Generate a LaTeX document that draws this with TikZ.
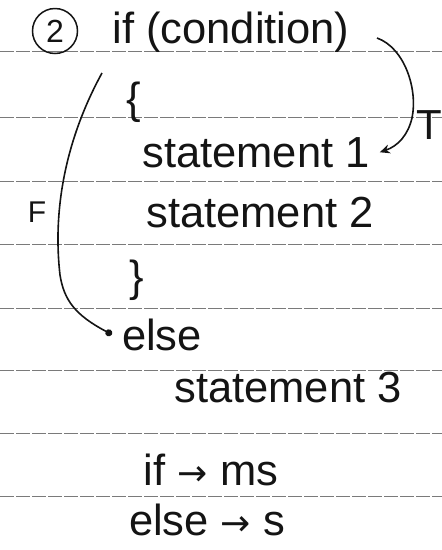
\documentclass[tikz,border=0pt]{standalone}
\usepackage{fontspec}
\usepackage{xcolor}
\usepackage{tikz}
\usetikzlibrary{arrows.meta,positioning,calc}
\setmainfont{Liberation Sans}
\newfontfamily\symfont{DejaVu Sans}
\newcommand{\handbig}{\fontsize{43.5}{50}\selectfont}
\newcommand{\handlbl}{\fontsize{30}{36}\selectfont}
\newcommand{\toarr}{{\symfont\fontsize{36}{40}\selectfont →}}
\definecolor{ink}{HTML}{141414}
\definecolor{ruling}{HTML}{7A7A7A}
\tikzset{
  code/.style={anchor=base, inner xsep=10pt, inner ysep=3pt, text=ink,
               font=\handbig},
  lbl/.style={anchor=base, inner sep=2pt, text=ink, font=\handlbl},
  numc/.style={circle, draw=ink, line width=1.5pt, minimum size=45pt,
               inner sep=0pt, text=ink, font=\fontsize{32}{36}\selectfont},
  flow/.style={-{Stealth[length=10pt,width=9pt]}, line width=1.6pt, draw=ink},
  flowdot/.style={-{Circle[length=7pt]}, line width=1.6pt, draw=ink},
  ruled/.style={draw=ruling, line width=0.9pt, dash pattern=on 14pt off 2pt},
}

\begin{document}
\begin{tikzpicture}[x=1pt, y=-1pt]
  \useasboundingbox (0,0) rectangle (442,550);
  % ruled notebook lines
  \foreach \ry in {51,117,181,244,308,370,433,496}
    \draw[ruled] (0,\ry) -- (442,\ry);

  \node[numc] (num) at (55,31) {2};
  \node[code] (cond) at (231,43) {if (condition)};
  \node[code] (open) at (134,113) {\{};
  \node[code] (st1) at (256,167) {statement 1};
  \node[code] (st2) at (260,227) {statement 2};
  \node[code] (close) at (137,291) {\}};
  \node[code] (els) at (162,350) {else};
  \node[code] (st3) at (288,402) {statement 3};
  \node[code] (ifms) at (211,485) {if \toarr{} ms};
  \node[code] (elss) at (207,535) {else \toarr{} s};

  \node[lbl, font=\fontsize{42}{48}\selectfont] (tl) at (429,139) {T};
  \node[lbl] (fl) at (37,222) {F};

  % true branch / false branch
  \coordinate (tstart) at (377,38);
  \coordinate (fstart) at (102,73);
  \draw[flow] (tstart) .. controls (405,48) and (418,90) .. (412,118)
              .. controls (408,135) and (398,146) .. (st1.east);
  \draw[flowdot] (fstart) .. controls (68,135) and (52,205) .. (60,275)
                 .. controls (64,300) and (75,315) .. (els.west);
\end{tikzpicture}
\end{document}
